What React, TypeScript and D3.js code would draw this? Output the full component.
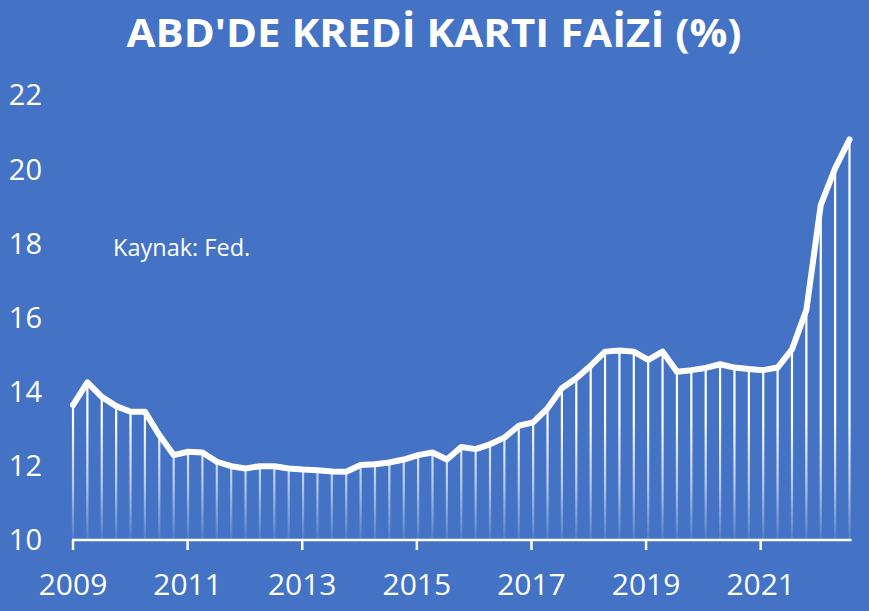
import React from "react";
import * as d3 from "d3";

const quarters: string[] = [];
for (let y = 2009; y <= 2022; y++) for (let q = 1; q <= 4; q++) if (!(y === 2022 && q === 4)) quarters.push(`${y}Q${q}`);

const rates: number[] = [
  13.64, 14.25, 13.86, 13.61, 13.46, 13.46, 12.83, 12.29,
  12.38, 12.36, 12.11, 11.99, 11.93, 11.99, 11.99, 11.93,
  11.90, 11.88, 11.85, 11.84, 12.02, 12.04, 12.09, 12.17,
  12.29, 12.36, 12.17, 12.51, 12.45, 12.58, 12.76, 13.08,
  13.17, 13.55, 14.09, 14.36, 14.70, 15.08, 15.11, 15.08,
  14.86, 15.08, 14.54, 14.58, 14.64, 14.74, 14.65, 14.61,
  14.58, 14.65, 15.14, 16.20, 19.03, 20.02, 20.80,
];

const yTicks = [10, 12, 14, 16, 18, 20, 22];
const xTickYears = [2009, 2011, 2013, 2015, 2017, 2019, 2021];

const W = 869, H = 611;
const BG = "#4472C4";
const FONT = "'Open Sans', 'Noto Sans', sans-serif";

export default function App() {
  const x = d3.scaleLinear().domain([0, rates.length - 1]).range([73, 849.5]);
  const xYear = d3.scaleLinear().domain([2009, 2021]).range([73, 760.7]);
  const y = d3.scaleLinear().domain([10, 22]).range([540, 95]);
  const line = d3.line<number>().x((_, i) => x(i)).y((d) => y(d));

  return (
    <div style={{ position: "absolute", left: 0, top: 0, width: W, height: H, background: BG }}>
      <svg width={W} height={H} style={{ display: "block" }}>
        <defs>
          <linearGradient id="dropGrad" gradientUnits="userSpaceOnUse" x1="0" y1="420" x2="0" y2="540">
            <stop offset="0" stopColor="#ffffff" stopOpacity={1} />
            <stop offset="0.55" stopColor="#ffffff" stopOpacity={0.6} />
            <stop offset="1" stopColor="#ffffff" stopOpacity={0.08} />
          </linearGradient>
        </defs>
        <rect x={0} y={0} width={W} height={H} fill={BG} />
        <text x={434} y={46.5} textAnchor="middle" fill="#fff" fontFamily={FONT} fontWeight={700} fontSize={40}
          textLength={615} lengthAdjust="spacingAndGlyphs">
          ABD'DE KREDİ KARTI FAİZİ (%)
        </text>
        {yTicks.map((t) => (
          <text key={t} x={42} y={y(t)} dy="0.36em" textAnchor="end" fill="#fff" fontFamily={FONT} fontSize={29}>
            {t}
          </text>
        ))}
        {rates.map((d, i) => (
          <line key={quarters[i]} x1={x(i)} x2={x(i)} y1={y(d)} y2={y(10)} stroke="url(#dropGrad)" strokeWidth={2.2} />
        ))}
        <line x1={72} x2={851.5} y1={y(10)} y2={y(10)} stroke="#fff" strokeWidth={2.5} />
        {xTickYears.map((yr) => (
          <g key={yr}>
            <line x1={xYear(yr)} x2={xYear(yr)} y1={y(10)} y2={y(10) + 10} stroke="#fff" strokeWidth={2.5} />
            <text x={xYear(yr)} y={595} textAnchor="middle" fill="#fff" fontFamily={FONT} fontSize={30}>
              {yr}
            </text>
          </g>
        ))}
        <path d={line(rates) || ""} fill="none" stroke="#fff" strokeWidth={6} strokeLinejoin="round" strokeLinecap="round" />
        <text x={113} y={256} fill="#fff" fontFamily={FONT} fontSize={23.5}>
          Kaynak: Fed.
        </text>
      </svg>
    </div>
  );
}
